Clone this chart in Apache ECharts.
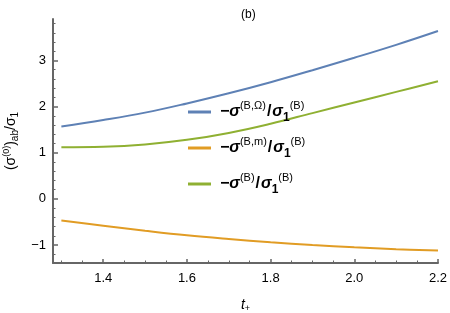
<!DOCTYPE html>
<html>
<head>
<meta charset="utf-8">
<script src="https://cdn.jsdelivr.net/npm/echarts@6/dist/echarts.min.js"></script>
<style>html,body{margin:0;padding:0;background:#fff}#c{width:450px;height:313px}</style>
</head>
<body>
<div id="c"></div>
<script>
// ---- data ----
const tPlus = [1.3, 1.4, 1.5, 1.6, 1.7, 1.8, 1.9, 2.0, 2.1, 2.2];
const sigmaOmega = [1.57, 1.71, 1.87, 2.07, 2.29, 2.53, 2.79, 3.06, 3.34, 3.64];
const sigmaM = [-0.47, -0.58, -0.69, -0.79, -0.87, -0.94, -1.00, -1.05, -1.09, -1.12];
const sigmaB = [1.12, 1.13, 1.18, 1.28, 1.43, 1.63, 1.86, 2.09, 2.32, 2.55];
const xMajorTicks = [1.4, 1.6, 1.8, 2.0, 2.2];
const xMinorTicks = [1.3, 1.35, 1.45, 1.5, 1.55, 1.65, 1.7, 1.75, 1.85, 1.9, 1.95, 2.05, 2.1, 2.15];
const yMajorTicks = [-1, 0, 1, 2, 3];
const yMinorTicks = [-1.2, -0.8, -0.6, -0.4, -0.2, 0.2, 0.4, 0.6, 0.8, 1.2, 1.4, 1.6, 1.8, 2.2, 2.4, 2.6, 2.8, 3.2, 3.4, 3.6, 3.8];
const seriesNames = ['omega', 'm', 'b'];

const pairs = ys => tPlus.map((x, i) => [x, ys[i]]);
const FONT = 'Liberation Sans, Arial, sans-serif';
const axisColor = '#666';
const legendText = {
  omega: '{m|−σ}{sup|(B,Ω)}{sl|/}{m|σ}{sub|1}{sup|(B)}',
  m: '{m|−σ}{sup|(B,m)}{sl|/}{m|σ}{sub|1}{sup|(B)}',
  b: '{m|−σ}{sup|(B)}{sl|/}{m|σ}{sub|1}{sup|(B)}'
};
const colors = ['#5E81B5', '#E19C24', '#8FB032'];

const chart = echarts.init(document.getElementById('c'));
chart.setOption({
  animation: false,
  title: {
    text: '(b)', left: 236, top: 4,
    textStyle: { fontFamily: FONT, fontSize: 12, fontWeight: 'normal', color: '#000' }
  },
  grid: { left: 53, right: 12, top: 19, bottom: 50, outerBoundsMode: 'none' },
  legend: {
    orient: 'vertical', left: 183, top: 95,
    itemWidth: 23, itemHeight: 3, itemGap: 12, icon: 'rect',
    data: seriesNames,
    formatter: n => legendText[n],
    textStyle: {
      padding: [0, 0, 0, 4],
      rich: {
        m: { fontFamily: FONT, fontSize: 16, fontWeight: 'bold', fontStyle: 'italic', color: '#000', lineHeight: 24, verticalAlign: 'middle' },
        sl: { fontFamily: FONT, fontSize: 16, fontWeight: 'bold', color: '#000', lineHeight: 24, verticalAlign: 'middle', padding: [0, 1, 0, 1] },
        sup: { fontFamily: FONT, fontSize: 11, color: '#000', lineHeight: 13, verticalAlign: 'top' },
        sub: { fontFamily: FONT, fontSize: 12, fontWeight: 'bold', color: '#000', lineHeight: 12, verticalAlign: 'bottom' }
      }
    }
  },
  xAxis: [{
    type: 'value', min: 1.28, max: 2.2,
    name: '{i|t}{s|+}', nameLocation: 'middle', nameGap: 34,
    nameTextStyle: { rich: {
      i: { fontFamily: FONT, fontSize: 14, fontStyle: 'italic', color: '#000', lineHeight: 16, verticalAlign: 'middle' },
      s: { fontFamily: FONT, fontSize: 9, color: '#000', lineHeight: 10, verticalAlign: 'bottom' }
    } },
    axisLine: { show: true, onZero: false, lineStyle: { color: axisColor, width: 2 } },
    axisTick: { show: true, inside: true, length: 4, customValues: xMajorTicks, lineStyle: { color: axisColor, width: 1.5 } },
    axisLabel: { customValues: xMajorTicks, margin: 9, fontFamily: FONT, fontSize: 13, color: '#000', formatter: v => v.toFixed(1) },
    splitLine: { show: false }
  }, {
    type: 'value', min: 1.28, max: 2.2, position: 'bottom',
    axisLine: { show: false, onZero: false },
    axisTick: { show: true, inside: true, length: 2.5, customValues: xMinorTicks, lineStyle: { color: axisColor, width: 1 } },
    axisLabel: { show: false },
    splitLine: { show: false }
  }],
  yAxis: [{
    type: 'value', min: -1.39, max: 3.9,
    name: '{m|(σ}{sup|(0)}{m|)}{sub|ab}{m|/σ}{sub|1}', nameLocation: 'middle', nameGap: 30, nameRotate: 90,
    nameTextStyle: { rich: {
      m: { fontFamily: FONT, fontSize: 14, color: '#000', lineHeight: 18, verticalAlign: 'middle' },
      sup: { fontFamily: FONT, fontSize: 9, color: '#000', lineHeight: 10, verticalAlign: 'top' },
      sub: { fontFamily: FONT, fontSize: 10, color: '#000', lineHeight: 10, verticalAlign: 'bottom' }
    } },
    axisLine: { show: true, onZero: false, lineStyle: { color: axisColor, width: 2 } },
    axisTick: { show: true, inside: true, length: 5, customValues: yMajorTicks, lineStyle: { color: axisColor, width: 1.5 } },
    axisLabel: { customValues: yMajorTicks, margin: 7, fontFamily: FONT, fontSize: 13, color: '#000', formatter: v => String(v).replace('-', '−') },
    splitLine: { show: false }
  }, {
    type: 'value', min: -1.39, max: 3.9, position: 'left',
    axisLine: { show: false, onZero: false },
    axisTick: { show: true, inside: true, length: 2.5, customValues: yMinorTicks, lineStyle: { color: axisColor, width: 1 } },
    axisLabel: { show: false },
    splitLine: { show: false }
  }],
  series: [
    { name: 'omega', type: 'line', smooth: 0.4, showSymbol: false, data: pairs(sigmaOmega), lineStyle: { color: colors[0], width: 2 }, itemStyle: { color: colors[0] } },
    { name: 'm', type: 'line', smooth: 0.4, showSymbol: false, data: pairs(sigmaM), lineStyle: { color: colors[1], width: 2 }, itemStyle: { color: colors[1] } },
    { name: 'b', type: 'line', smooth: 0.4, showSymbol: false, data: pairs(sigmaB), lineStyle: { color: colors[2], width: 2 }, itemStyle: { color: colors[2] } }
  ]
});
</script>
</body>
</html>
